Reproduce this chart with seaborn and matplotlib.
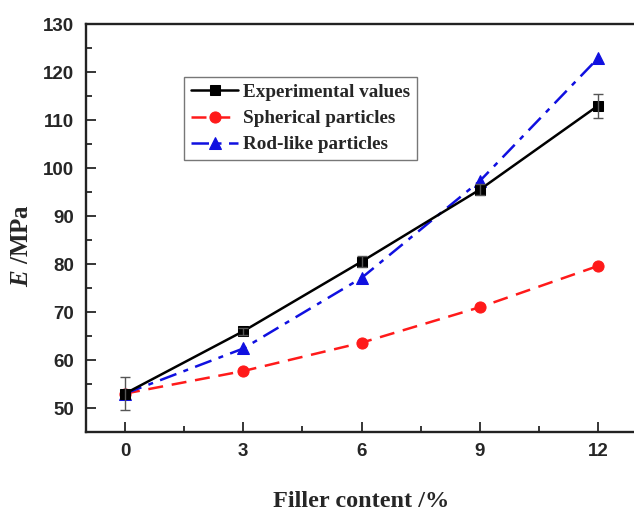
import matplotlib
matplotlib.use("Agg")
import matplotlib.pyplot as plt
import seaborn as sns
import pandas as pd
from matplotlib.ticker import MultipleLocator

filler = [0, 3, 6, 9, 12]
experimental = [53.0, 66.0, 80.5, 95.5, 113.0]
experimental_err = [3.5, 0.7, 1.2, 1.2, 2.5]
spherical = [53.0, 57.7, 63.6, 71.0, 79.6]
rodlike = [53.0, 62.4, 77.1, 97.3, 122.9]
series_names = ["Experimental values", "Spherical particles", "Rod-like particles"]

sns.set_style("ticks")
plt.rcParams["font.family"] = ["Liberation Sans", "DejaVu Sans"]
plt.rcParams["mathtext.fontset"] = "custom"
plt.rcParams["mathtext.it"] = "Liberation Serif:italic:bold"
plt.rcParams["mathtext.rm"] = "Liberation Serif:bold"

fig = plt.figure(figsize=(6.34, 5.11), dpi=100)
ax = fig.add_axes([0.135, 0.1546, 0.8706, 0.7984])

df = pd.DataFrame({"x": filler, "exp": experimental, "sph": spherical, "rod": rodlike})

sns.lineplot(data=df, x="x", y="exp", ax=ax, color="black", lw=1.8,
             marker="s", markersize=7, markeredgecolor="black",
             label=series_names[0], zorder=4)
sns.lineplot(data=df, x="x", y="sph", ax=ax, color="#ff1a1a", lw=1.8,
             marker="o", markersize=8, markeredgecolor="#ff1a1a",
             label=series_names[1], zorder=3)
sns.lineplot(data=df, x="x", y="rod", ax=ax, color="#1010e0", lw=1.8,
             marker="^", markersize=8, markeredgecolor="#1010e0",
             label=series_names[2], zorder=3)
ax.lines[1].set_dashes([6, 3.5])
ax.lines[2].set_dashes([7, 3, 2, 3])

ax.errorbar(filler, experimental, yerr=experimental_err, fmt="none",
            ecolor="#555555", elinewidth=1.0, capsize=3.6, capthick=1.0, zorder=5)

ax.set_xlim(-1, 13)
ax.set_ylim(45, 130)
ax.xaxis.set_major_locator(MultipleLocator(3))
ax.xaxis.set_minor_locator(MultipleLocator(1.5))
ax.yaxis.set_major_locator(MultipleLocator(10))
ax.yaxis.set_minor_locator(MultipleLocator(5))
ax.tick_params(which="both", direction="in", width=1.3, top=False, right=False)
ax.tick_params(which="major", length=7, labelsize=13.5, pad=8)
ax.tick_params(which="minor", length=4)
for lab in ax.get_xticklabels() + ax.get_yticklabels():
    lab.set_fontweight("bold")
for sp in ax.spines.values():
    sp.set_linewidth(1.7)
    sp.set_color("#222222")

ax.set_xlabel("Filler content /%", family="Liberation Serif", fontsize=17.5,
              fontweight="bold", labelpad=22.3)
ax.set_ylabel(r"$E$ /MPa", family="Liberation Serif", fontsize=18,
              fontweight="bold")
ax.yaxis.set_label_coords(-0.095, 0.456)

leg = ax.legend(loc="upper left", bbox_to_anchor=(0.178, 0.87), frameon=True,
                fancybox=False, edgecolor="#777777", framealpha=1,
                prop={"family": "Liberation Serif", "weight": "bold", "size": 13.8},
                handlelength=2.5, handletextpad=0.25, borderpad=0.35,
                labelspacing=0.45, borderaxespad=0)
leg.get_frame().set_linewidth(1.0)

fig.savefig("out.png", dpi=100)
